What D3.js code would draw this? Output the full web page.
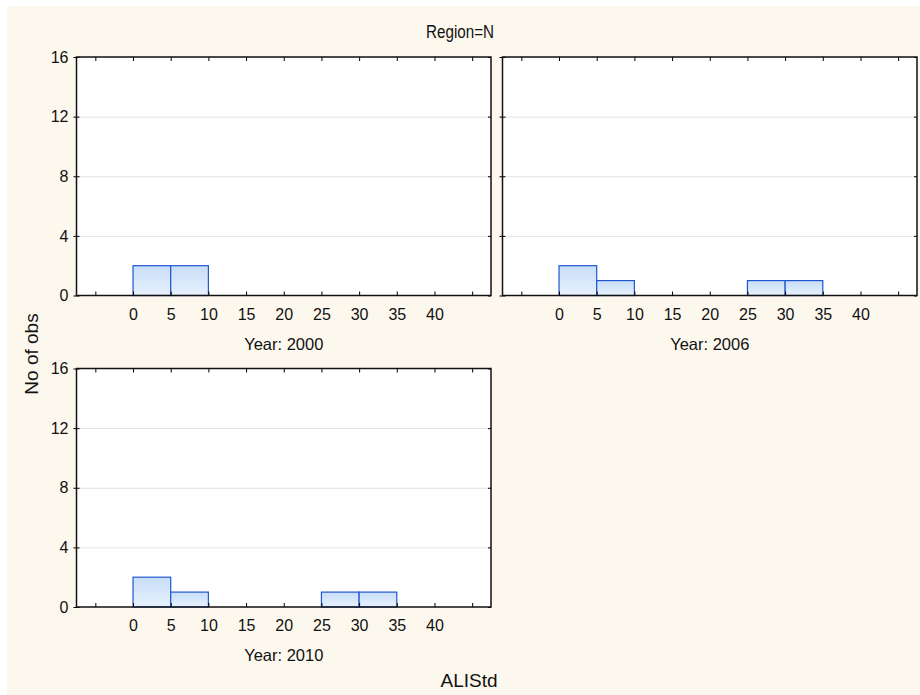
<!DOCTYPE html>
<meta charset="utf-8">
<script src="https://d3js.org/d3.v7.min.js"></script>
<style>
body { margin: 0; background: #fff; }
text { font-family: Arial, "Liberation Sans", sans-serif; fill: #111; }
</style>
<div id="chart"></div>
<script>

// histogram bins (left edge of each 5-wide bin)
var binStarts = [-5, 0, 5, 10, 15, 20, 25, 30, 35, 40];
var binWidth = 5;

// counts per bin, one array per year
var years = ["2000", "2006", "2010"];
var counts2000 = [0, 2, 2, 0, 0, 0, 0, 0, 0, 0];
var counts2006 = [0, 2, 1, 0, 0, 0, 1, 1, 0, 0];
var counts2010 = [0, 2, 1, 0, 0, 0, 1, 1, 0, 0];

var xTickLabels = [0, 5, 10, 15, 20, 25, 30, 35, 40];
var xTicksAll = [-5, 0, 5, 10, 15, 20, 25, 30, 35, 40, 45];
var yTicks = [0, 4, 8, 12, 16];

var width = 920, height = 695;
var pw = 414.5, ph = 238.5;

var svg = d3.select("#chart").append("svg")
  .attr("width", width)
  .attr("height", height);

// beige background
svg.append("rect")
  .attr("x", 7).attr("y", 6)
  .attr("width", width - 7).attr("height", height - 6)
  .attr("fill", "#fdf8ee");

var defs = svg.append("defs");
var grad = defs.append("linearGradient")
  .attr("id", "barfill")
  .attr("x1", 0).attr("y1", 0).attr("x2", 0).attr("y2", 1);
grad.append("stop").attr("offset", "0%").attr("stop-color", "#c7ddf8");
grad.append("stop").attr("offset", "100%").attr("stop-color", "#e8f1fd");

var x = d3.scaleLinear().domain([-7.5, 47.5]).range([0, pw]);
var y = d3.scaleLinear().domain([0, 16]).range([ph, 0]);

var panels = [
  {year: years[0], counts: counts2000, left: 76.5, top: 57, yLabels: true},
  {year: years[1], counts: counts2006, left: 502.5, top: 57, yLabels: false},
  {year: years[2], counts: counts2010, left: 76.5, top: 368.5, yLabels: true}
];

panels.forEach(function(p) {
  var g = svg.append("g")
    .attr("transform", "translate(" + p.left + "," + p.top + ")");

  g.append("rect")
    .attr("width", pw).attr("height", ph)
    .attr("fill", "#fff");

  // gridlines
  g.append("g")
    .call(d3.axisLeft(y).tickValues([4, 8, 12]).tickSize(-pw).tickFormat(""))
    .call(function(a) {
      a.select(".domain").remove();
      a.selectAll("line").attr("stroke", "#e2e2e2");
    });

  // bars
  var data = binStarts.map(function(b, i) { return {x0: b, n: p.counts[i]}; })
    .filter(function(d) { return d.x0 >= 0 && d.x0 < 45; });
  g.selectAll("rect.bar")
    .data(data)
    .enter().append("rect")
    .attr("class", "bar")
    .attr("x", function(d) { return x(d.x0); })
    .attr("y", function(d) { return y(d.n); })
    .attr("width", function(d) { return x(d.x0 + binWidth) - x(d.x0); })
    .attr("height", function(d) { return y(0) - y(d.n); })
    .attr("fill", "url(#barfill)")
    .attr("stroke", "#1f56d2")
    .attr("stroke-width", 1.2);

  // left axis (labels only on the left column)
  g.append("g")
    .call(d3.axisLeft(y).tickValues(yTicks).tickSize(3).tickPadding(5)
      .tickFormat(p.yLabels ? null : ""))
    .call(function(a) {
      a.select(".domain").remove();
      a.selectAll("text").style("font-size", "16px").attr("fill", "#111");
    });

  // inward ticks on left, right, top, bottom
  g.append("g")
    .call(d3.axisRight(y).tickValues(yTicks).tickSize(3).tickFormat(""))
    .select(".domain").remove();
  g.append("g")
    .attr("transform", "translate(" + pw + ",0)")
    .call(d3.axisLeft(y).tickValues(yTicks).tickSize(3).tickFormat(""))
    .select(".domain").remove();
  g.append("g")
    .call(d3.axisBottom(x).tickValues(xTicksAll).tickSize(4).tickFormat(""))
    .select(".domain").remove();
  g.append("g")
    .attr("transform", "translate(0," + ph + ")")
    .call(d3.axisTop(x).tickValues(xTicksAll).tickSize(4).tickFormat(""))
    .select(".domain").remove();

  // bottom tick labels
  g.append("g")
    .attr("transform", "translate(0," + ph + ")")
    .call(d3.axisBottom(x).tickValues(xTickLabels).tickSize(0).tickPadding(13))
    .call(function(a) {
      a.select(".domain").remove();
      a.selectAll("text").style("font-size", "16px").attr("fill", "#111");
    });

  // frame
  g.append("rect")
    .attr("width", pw).attr("height", ph)
    .attr("fill", "none")
    .attr("stroke", "#111")
    .attr("stroke-width", 1.5);

  g.append("text")
    .attr("x", pw / 2)
    .attr("y", ph + 54)
    .attr("text-anchor", "middle")
    .style("font-size", "16.5px")
    .text("Year: " + p.year);
});

// title uses a narrower face in the original
svg.append("text")
  .attr("transform", "translate(460,38) scale(0.8,1)")
  .attr("text-anchor", "middle")
  .style("font-size", "19px")
  .text("Region=N");

svg.append("text")
  .attr("transform", "translate(38,354) rotate(-90)")
  .attr("text-anchor", "middle")
  .style("font-size", "19px")
  .text("No of obs");

svg.append("text")
  .attr("x", 469).attr("y", 687)
  .attr("text-anchor", "middle")
  .style("font-size", "19px")
  .text("ALIStd");

</script>
